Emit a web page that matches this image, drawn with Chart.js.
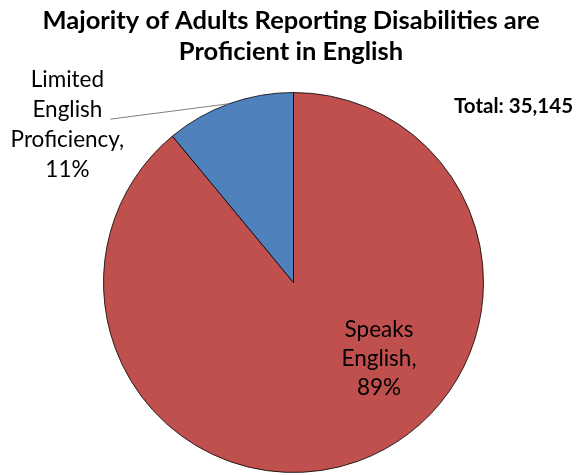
<!DOCTYPE html>
<html><head><meta charset="utf-8">
<script src="https://cdn.jsdelivr.net/npm/chart.js@4"></script>
<style>html,body{margin:0;padding:0;background:#fff}#c{display:block}</style>
</head><body>
<canvas id="c" width="579" height="475"></canvas>
<script>
const titleLines = ["Majority of Adults Reporting Disabilities are", "Proficient in English"];
const categories = ["Speaks English", "Limited English Proficiency"];
const values = [89, 11];
const labelLines = [["Speaks", "English,", "89%"], ["Limited", "English", "Proficiency,", "11%"]];
const totalText = "Total: 35,145";
const colors = ["#C0504D", "#4F81BD"];

const FONT = "Lato, 'Open Sans', sans-serif";

const overlay = {
  id: 'overlay',
  afterDatasetsDraw(chart) {
    const ctx = chart.ctx;
    const meta = chart.getDatasetMeta(0);
    ctx.save();
    // title
    ctx.fillStyle = '#000';
    ctx.textAlign = 'center';
    ctx.textBaseline = 'middle';
    ctx.font = "bold 25.5px " + FONT;
    titleLines.forEach((t, i) => ctx.fillText(t, 291, 21 + i * 31));
    // total
    ctx.font = "bold 20.5px " + FONT;
    ctx.textAlign = 'left';
    ctx.fillText(totalText, 454, 106);
    // labels
    ctx.font = "22.5px " + FONT;
    ctx.textAlign = 'center';
    const a0 = meta.data[0];
    const p0 = a0.getProps(['x', 'y', 'outerRadius']);
    const R = p0.outerRadius;
    // Speaks English label inside red slice
    labelLines[0].forEach((t, i) => ctx.fillText(t, p0.x + 0.45 * R, p0.y + 0.25 * R + i * 29));
    // Limited English label outside
    const lx = p0.x - 1.19 * R, ly = p0.y - 1.065 * R;
    labelLines[1].forEach((t, i) => ctx.fillText(t, lx, ly + i * 30));
    // leader line to the middle of blue arc
    const a1 = meta.data[1];
    const p1 = a1.getProps(['x', 'y', 'startAngle', 'endAngle', 'outerRadius']);
    const mid = (p1.startAngle + p1.endAngle) / 2;
    const ex = p1.x + Math.cos(mid) * p1.outerRadius;
    const ey = p1.y + Math.sin(mid) * p1.outerRadius;
    ctx.strokeStyle = '#7f7f7f';
    ctx.lineWidth = 1;
    ctx.beginPath();
    ctx.moveTo(lx + 43, ly + 30 + 9);
    ctx.lineTo(ex, ey);
    ctx.stroke();
    ctx.restore();
  }
};

new Chart(document.getElementById('c'), {
  type: 'pie',
  data: {
    labels: categories,
    datasets: [{
      data: values,
      backgroundColor: colors,
      borderColor: 'rgba(0,0,0,0.8)',
      borderWidth: 1
    }]
  },
  options: {
    responsive: false,
    animation: false,
    layout: { padding: { top: 92, bottom: 2, left: 103, right: 95 } },
    plugins: {
      legend: { display: false },
      title: { display: false },
      tooltip: { enabled: false }
    }
  },
  plugins: [overlay]
});
</script>
</body></html>
